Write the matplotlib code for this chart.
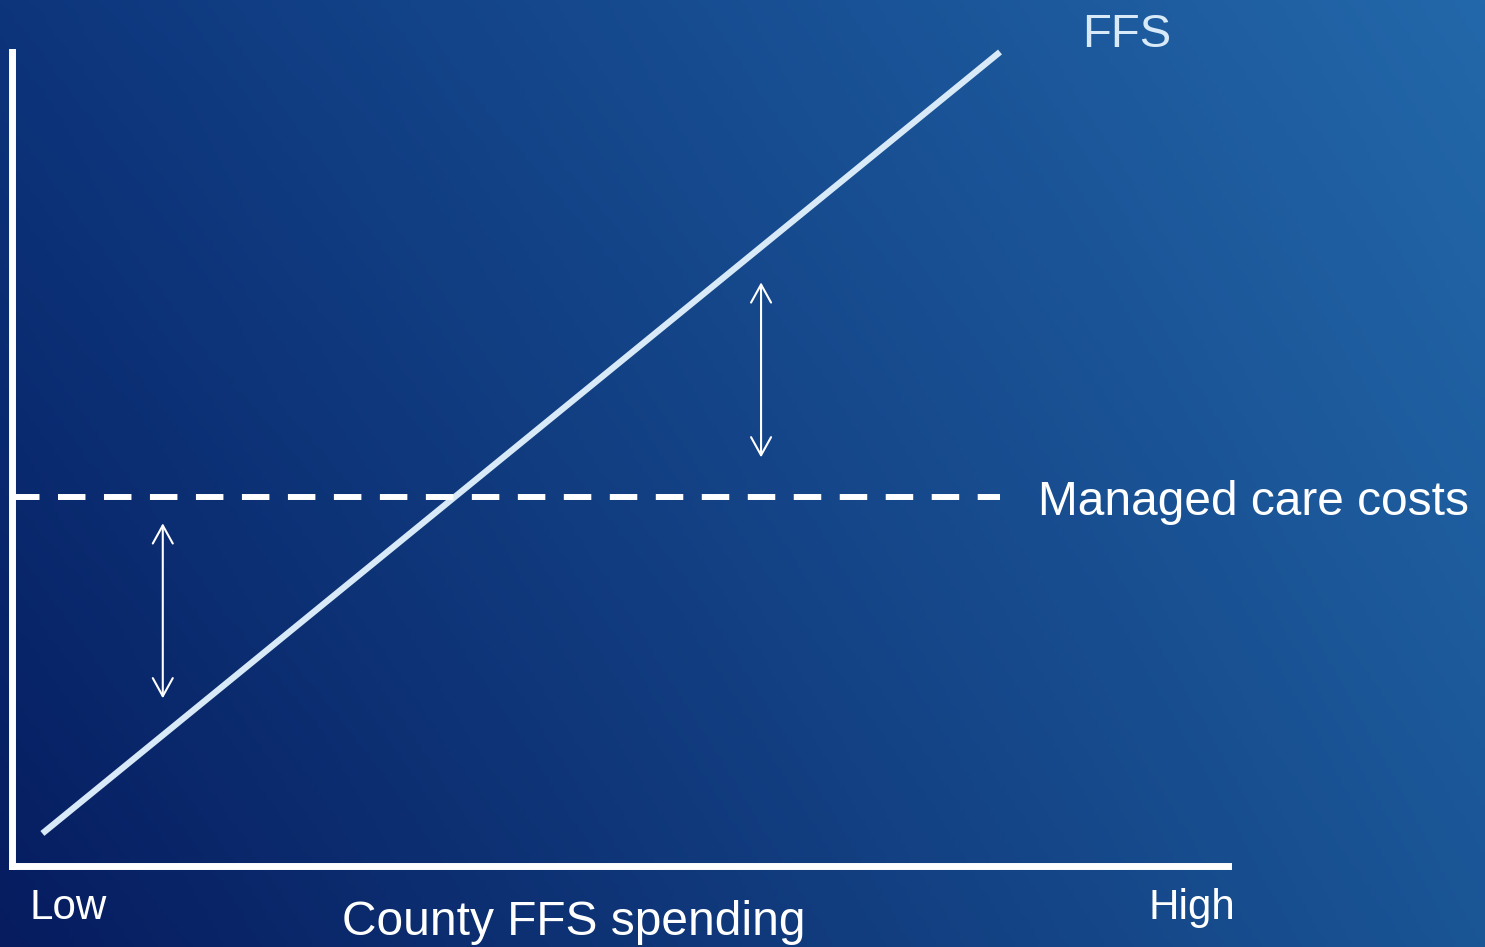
import numpy as np
import matplotlib
matplotlib.use("Agg")
from matplotlib import pyplot as plt
from matplotlib.colors import to_rgb

plt.rcParams['font.family'] = ['Liberation Sans', 'DejaVu Sans']

# conceptual chart, axes go 0..100 on both sides
ffs_x = [2.5, 81.25]
ffs_y = [4.0, 100.0]
managed_care_level = 45.3
managed_care_x = [0.0, 81.25]
# double arrows (x, y_low, y_high)
arrow_x = [12.4, 61.6]
arrow_lo = [20.6, 50.2]
arrow_hi = [42.1, 71.7]

fig = plt.figure(figsize=(14.85, 9.47), dpi=100)

# background gradient (colours of the four corners)
tl, tr = np.array(to_rgb('#0d357c')), np.array(to_rgb('#2368aa'))
bl, br = np.array(to_rgb('#061c5f')), np.array(to_rgb('#1a5596'))
u = np.linspace(0, 1, 300)[None, :, None]
v = np.linspace(0, 1, 200)[:, None, None]
grad = (1 - v) * ((1 - u) * tl + u * tr) + v * ((1 - u) * bl + u * br)
bg = fig.add_axes([0, 0, 1, 1])
bg.imshow(grad, aspect='auto', extent=[0, 1, 0, 1])
bg.axis('off')

ax = fig.add_axes([12 / 1485, 81 / 947, 1216 / 1485, 814 / 947])
ax.patch.set_alpha(0)
ax.set_xlim(0, 100)
ax.set_ylim(0, 100)
for s in ['top', 'right']:
    ax.spines[s].set_visible(False)
for s in ['left', 'bottom']:
    ax.spines[s].set_color('white')
    ax.spines[s].set_linewidth(5)
ax.set_xticks([])
ax.set_yticks([])

ax.plot(ffs_x, ffs_y, color='#d8eaf8', lw=4.5, solid_capstyle='butt', clip_on=False)
ax.plot(managed_care_x, [managed_care_level] * 2, color='white', lw=4.3,
        dashes=(4.6, 3.1), clip_on=False)

for x, lo, hi in zip(arrow_x, arrow_lo, arrow_hi):
    ax.annotate('', xy=(x, hi), xytext=(x, lo),
                arrowprops=dict(arrowstyle='<->,head_length=0.65,head_width=0.36',
                                color='white', lw=1.5, mutation_scale=20,
                                shrinkA=0, shrinkB=0))

ax.text(91.7, 102.1, 'FFS', color='#d8eaf8', fontsize=34, ha='center', va='center', clip_on=False)
ax.text(84.4, 44.6, 'Managed care costs', color='white', fontsize=34.5, ha='left', va='center', clip_on=False)
ax.text(1.4, -5.1, 'Low', color='white', fontsize=30.3, ha='left', va='center', clip_on=False)
ax.text(93.5, -5.1, 'High', color='white', fontsize=30.3, ha='left', va='center', clip_on=False)
ax.text(46.2, -7.0, 'County FFS spending', color='white', fontsize=34.5, ha='center', va='center', clip_on=False)

fig.savefig('out.png', dpi=100)
